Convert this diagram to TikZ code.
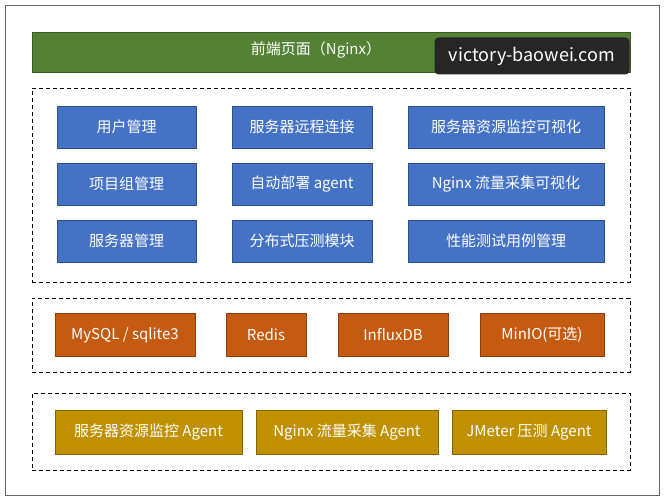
\documentclass[tikz,border=0pt]{standalone}
\usepackage{fontspec}
\setmainfont{Noto Sans CJK SC}
\begin{document}
\begin{tikzpicture}[x=1pt,y=-1pt,
 box/.style={draw=#1!70!black,fill=#1,text=white,font=\fontsize{15}{17}\selectfont,inner sep=0pt,line width=0.8pt},
 dbox/.style={draw=black,line width=0.9pt,dash pattern=on 4pt off 3pt}]
\definecolor{gr}{HTML}{548235}\definecolor{bl}{HTML}{4472C4}\definecolor{or}{HTML}{C55A11}\definecolor{ye}{HTML}{BF9000}
\useasboundingbox (0,0) rectangle (664,500);
\draw[line width=0.8pt,gray!80!black] (5,5) rectangle (659,495);
\node[box=gr,minimum width=598,minimum height=40] (nginx) at (331,52) {};
\node[text=white,font=\fontsize{15}{17}\selectfont] (nginxt) at (316,50) {前端页面（Nginx）};
\node[fill=black!85,rounded corners=4pt,text=white,minimum width=195,minimum height=37,font=\fontsize{18}{20}\selectfont] (wm) at (532,56) {victory-baowei.com};
\node[dbox,minimum width=598,minimum height=194] (d1) at (331,185) {};
\node[dbox,minimum width=598,minimum height=74] (d2) at (331,335) {};
\node[dbox,minimum width=598,minimum height=77] (d3) at (331,431.5) {};
\node[box=bl,minimum width=139,minimum height=42] (a1) at (126.5,127) {用户管理};
\node[box=bl,minimum width=140,minimum height=42] (a2) at (302,127) {服务器远程连接};
\node[box=bl,minimum width=196,minimum height=42] (a3) at (506,127) {服务器资源监控可视化};
\node[box=bl,minimum width=139,minimum height=42] (b1) at (126.5,184) {项目组管理};
\node[box=bl,minimum width=140,minimum height=42] (b2) at (302,184) {自动部署 agent};
\node[box=bl,minimum width=196,minimum height=42] (b3) at (506,184) {Nginx 流量采集可视化};
\node[box=bl,minimum width=139,minimum height=42] (c1) at (126.5,241) {服务器管理};
\node[box=bl,minimum width=140,minimum height=42] (c2) at (302,241) {分布式压测模块};
\node[box=bl,minimum width=196,minimum height=42] (c3) at (506,241) {性能测试用例管理};
\node[box=or,minimum width=140,minimum height=43] (o1) at (125,335) {MySQL / sqlite3};
\node[box=or,minimum width=80,minimum height=43] (o2) at (266,335) {Redis};
\node[box=or,minimum width=110,minimum height=43] (o3) at (393,335) {InfluxDB};
\node[box=or,minimum width=124,minimum height=43] (o4) at (542,335) {MinIO(可选)};
\node[box=ye,minimum width=187,minimum height=44] (y1) at (148.5,432) {服务器资源监控 Agent};
\node[box=ye,minimum width=182,minimum height=44] (y2) at (347,432) {Nginx 流量采集 Agent};
\node[box=ye,minimum width=154,minimum height=44] (y3) at (529,432) {JMeter 压测 Agent};
\end{tikzpicture}
\end{document}
